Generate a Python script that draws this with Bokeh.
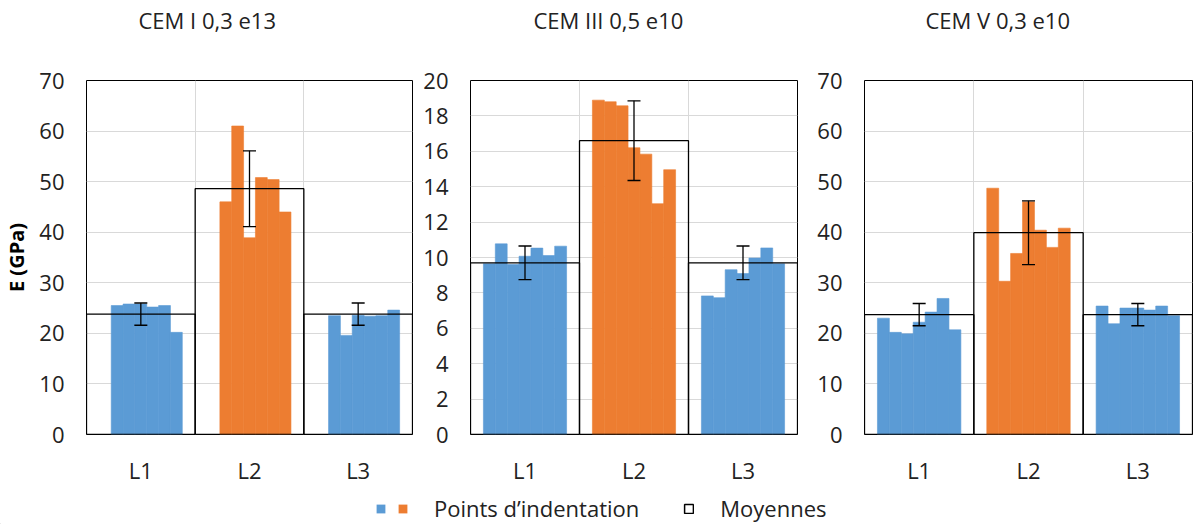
import numpy as np
from bokeh.plotting import figure
from bokeh.models import (Range1d, FixedTicker, ColumnDataSource, Whisker, TeeHead,
                          Legend, LegendItem, Title)
from bokeh.layouts import row, column
from bokeh.embed import file_html
from bokeh.resources import INLINE

nan = float("nan")

# ---------------- data ----------------
categories = ["L1", "L2", "L3"]
titles = ["CEM I 0,3 e13", "CEM III 0,5 e10", "CEM V 0,3 e10"]

# indentation points, E (GPa); NaN = empty slot
cem1_L1 = [nan, 25.5, 25.8, 25.8, 25.2, 25.5, 20.2]
cem1_L2 = [nan, 46.0, 61.0, 38.9, 50.8, 50.4, 44.0]
cem1_L3 = [nan, 23.5, 19.6, 23.6, 23.4, 23.5, 24.6]

cem3_L1 = [9.65, 10.77, 9.6, 10.07, 10.53, 10.11, 10.64]
cem3_L2 = [18.89, 18.8, 18.57, 16.2, 15.84, 13.04, 14.96]
cem3_L3 = [7.83, 7.73, 9.31, 9.09, 9.97, 10.54, 9.65]

cem5_L1 = [23.0, 20.2, 19.9, 22.2, 24.2, 26.9, 20.7]
cem5_L2 = [48.7, 30.3, 35.8, 46.0, 40.4, 37.0, 40.8]
cem5_L3 = [25.4, 21.9, 25.0, 25.0, 24.6, 25.4, 23.5]

# means and standard deviations
cem1_means = [23.8, 48.6, 23.8]
cem1_err = [2.2, 7.5, 2.2]
cem3_means = [9.7, 16.6, 9.7]
cem3_err = [0.95, 2.25, 0.95]
cem5_means = [23.7, 39.9, 23.7]
cem5_err = [2.2, 6.3, 2.2]

y_max = [70, 20, 70]
y_step = [10, 2, 10]

# ---------------- style ----------------
BLUE = "#5B9BD5"
ORANGE = "#ED7D31"
GRID = "#D9D9D9"
TXT = "#222222"
FONT = "Open Sans"
FS = "22px"
SLOT_W = 0.109
SLOT_M = (1 - 7 * SLOT_W) / 2

FIG_H = 494
TOP = 80
FRAME_H = 354
BOTTOM = FIG_H - TOP - FRAME_H


def make_panel(title, pts, means, errs, ymax, ystep, left, right, width, title_off, ylabel=None):
    p = figure(width=width, height=FIG_H, output_backend="svg", toolbar_location=None,
               x_range=Range1d(0, 3), y_range=Range1d(0, ymax), title=None)
    p.min_border_left = left
    p.min_border_right = right
    p.min_border_top = TOP
    p.min_border_bottom = BOTTOM

    xs, tops, cols = [], [], []
    for g, vals in enumerate(pts):
        for j, v in enumerate(vals):
            xs.append(g + SLOT_M + SLOT_W * (j + 0.5))
            tops.append(v)
            cols.append(ORANGE if g == 1 else BLUE)
    p.vbar(x=xs, top=tops, bottom=0, width=SLOT_W, fill_color=cols, line_color=cols,
           line_width=0.6)

    centers = [g + 0.5 for g in range(len(categories))]
    p.vbar(x=centers, top=means, bottom=0, width=1.0, fill_color=None,
           line_color="black", line_width=1.3)

    src = ColumnDataSource(dict(x=centers,
                                upper=[m + e for m, e in zip(means, errs)],
                                lower=[m - e for m, e in zip(means, errs)]))
    w = Whisker(source=src, base="x", upper="upper", lower="lower", dimension="height",
                line_color="black", line_width=1.3, level="annotation")
    w.upper_head = TeeHead(size=13, line_color="black", line_width=1.3)
    w.lower_head = TeeHead(size=13, line_color="black", line_width=1.3)
    p.add_layout(w)

    p.xaxis.ticker = FixedTicker(ticks=centers)
    p.xaxis.major_label_overrides = {c: lab for c, lab in zip(centers, categories)}
    p.xgrid.ticker = FixedTicker(ticks=[1, 2])
    p.yaxis.ticker = FixedTicker(ticks=list(range(0, ymax + 1, ystep)))
    for grid in (p.xgrid, p.ygrid):
        grid.grid_line_color = GRID
        grid.grid_line_width = 1
    for ax in (p.xaxis[0], p.yaxis[0]):
        ax.axis_line_color = None
        ax.major_tick_line_color = None
        ax.minor_tick_line_color = None
        ax.major_tick_out = 0
        ax.major_tick_in = 0
        ax.minor_tick_out = 0
        ax.minor_tick_in = 0
        ax.major_label_text_font = FONT
        ax.major_label_text_font_size = FS
        ax.major_label_text_color = TXT
    p.xaxis.major_label_standoff = 20
    p.yaxis.major_label_standoff = 22
    if ylabel:
        p.yaxis.axis_label = ylabel
        p.yaxis.axis_label_text_font = FONT
        p.yaxis.axis_label_text_font_style = "bold"
        p.yaxis.axis_label_text_font_size = "20px"
        p.yaxis.axis_label_text_color = "black"
        p.yaxis.axis_label_standoff = 6

    p.outline_line_color = "black"
    p.outline_line_width = 1
    p.outline_line_alpha = 1

    # blank spacer panel next to the frame, then the panel title above it
    spacer = Title(text=" ", text_color="white", text_font_size="10px", standoff=32)
    p.add_layout(spacer, "above")
    t = Title(text=title, align="left", offset=title_off, vertical_align="middle",
              standoff=0, text_font=FONT, text_font_size=FS, text_font_style="normal",
              text_color=TXT)
    p.add_layout(t, "above")
    p.background_fill_color = "white"
    p.border_fill_color = "white"
    return p


p1 = make_panel(titles[0], [cem1_L1, cem1_L2, cem1_L3], cem1_means, cem1_err,
                y_max[0], y_step[0], 85, 8, 420, 52, ylabel="E (GPa)")
p2 = make_panel(titles[1], [cem3_L1, cem3_L2, cem3_L3], cem3_means, cem3_err,
                y_max[1], y_step[1], 49, 3, 380, 63)
p3 = make_panel(titles[2], [cem5_L1, cem5_L2, cem5_L3], cem5_means, cem5_err,
                y_max[2], y_step[2], 64, 2, 394, 61)

# ---------------- legend strip ----------------
leg = figure(width=1194, height=30, output_backend="svg", toolbar_location=None,
             x_axis_type=None, y_axis_type=None, x_range=Range1d(0, 1), y_range=Range1d(0, 1))
leg.min_border = 0
leg.outline_line_color = None
# proxy renderers for the legend keys (kept outside the visible ranges)
r_blue = leg.vbar(x=[-10], top=[-10], bottom=-11, width=0.1, fill_color=BLUE, line_color=None)
r_orange = leg.vbar(x=[-10], top=[-10], bottom=-11, width=0.1, fill_color=ORANGE,
                    line_color=None)
r_mean = leg.vbar(x=[-10], top=[-10], bottom=-11, width=0.1, fill_color=None,
                  line_color="black", line_width=1.5)

common = dict(orientation="horizontal", glyph_width=11, glyph_height=11, padding=0, margin=0,
              border_line_color=None, background_fill_alpha=0, label_width=0,
              label_text_font=FONT, label_text_font_size=FS, label_text_color=TXT)
legA = Legend(items=[LegendItem(label=" ", renderers=[r_blue])], location=(375, 10),
              label_standoff=0, **common)
legB = Legend(items=[LegendItem(label="Points d\u2019indentation", renderers=[r_orange]),
                     LegendItem(label="Moyennes", renderers=[r_mean])],
              location=(397, 1), label_standoff=26, spacing=44, **common)
leg.add_layout(legA)
leg.add_layout(legB)

layout = column(row(p1, p2, p3), leg)

open("out.html", "w").write(file_html(layout, INLINE))
